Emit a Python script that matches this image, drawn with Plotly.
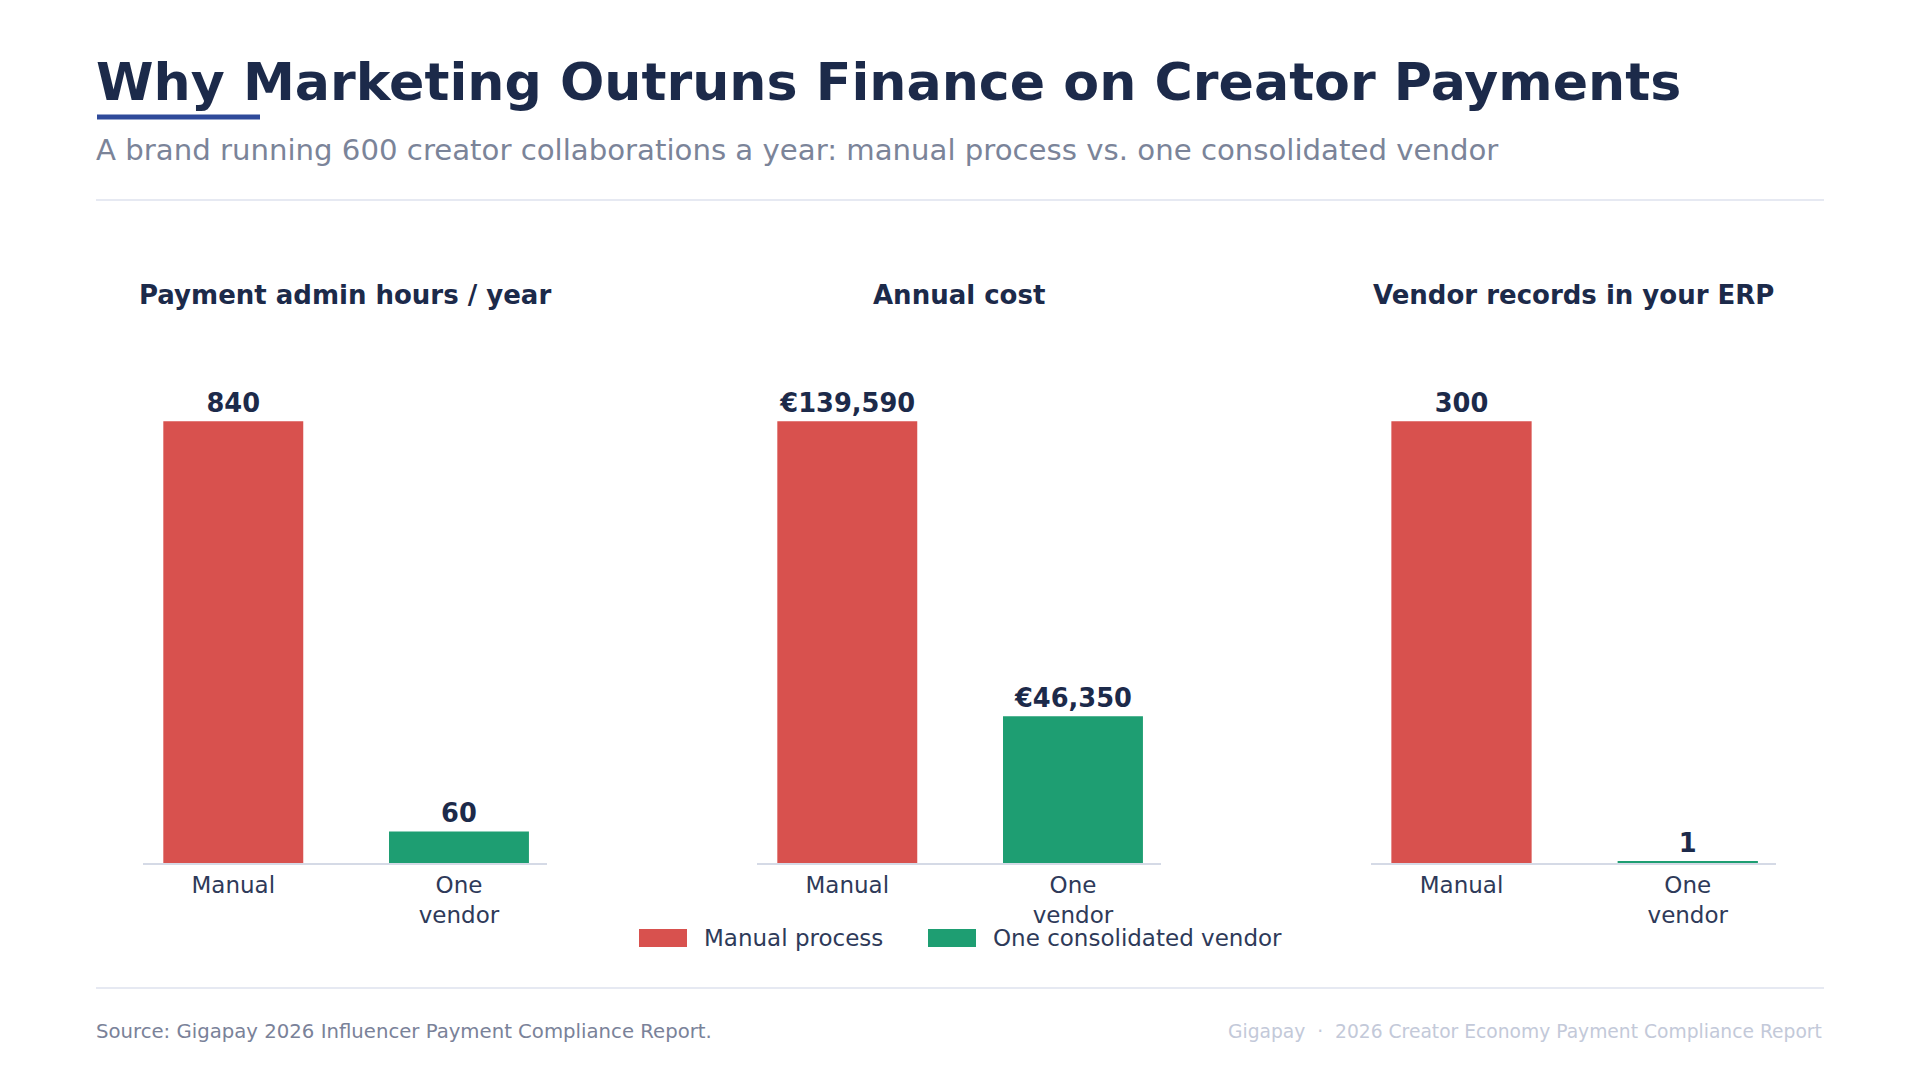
import plotly.graph_objects as go

W, H = 1920, 1080

# ---- data ----
panel_titles = ["Payment admin hours / year", "Annual cost", "Vendor records in your ERP"]
categories = ["Manual", "One<br>vendor"]
manual_values = [840, 139590, 300]
vendor_values = [60, 46350, 1]
manual_labels = ["840", "€139,590", "300"]
vendor_labels = ["60", "€46,350", "1"]
series_names = ["Manual process", "One consolidated vendor"]

RED = "#D8514E"
GREEN = "#1E9E72"
NAVY = "#1C2A4A"
TICK = "#2E3A59"
FONT = "DejaVu Sans"


def px_x(x):
    return x / W


def px_y(y):
    return 1 - y / H


x_domains = [(143, 547), (757, 1161), (1371, 1776)]
base_px, top_px = 863, 377

fig = go.Figure()
for i in range(3):
    ax = "" if i == 0 else str(i + 1)
    for name, vals, labs, col in [
        (series_names[0], manual_values, manual_labels, RED),
        (series_names[1], vendor_values, vendor_labels, GREEN),
    ]:
        cat = categories[0] if col == RED else categories[1]
        fig.add_trace(go.Bar(
            x=[cat], y=[vals[i]], text=[labs[i]], name=name,
            marker=dict(color=col, line=dict(width=0)),
            width=0.62, textposition="outside", cliponaxis=False,
            textfont=dict(family=FONT, size=25.7, color=NAVY, weight="bold"),
            xaxis="x" + ax, yaxis="y" + ax, showlegend=False,
        ))
    d = x_domains[i]
    ymax = max(manual_values[i], vendor_values[i])
    fig.update_layout(**{
        "xaxis" + ax: dict(
            domain=[px_x(d[0]), px_x(d[1])], anchor="y" + ax,
            categoryorder="array", categoryarray=categories,
            range=[-0.4, 1.39], showline=True, linecolor="#D5DAE6", linewidth=2,
            ticks="", ticklen=0, showgrid=False, zeroline=False, fixedrange=True,
            tickfont=dict(family=FONT, size=23, color=TICK),
        ),
        "yaxis" + ax: dict(
            domain=[px_y(base_px), px_y(top_px)], anchor="x" + ax,
            range=[0, ymax * 1.1], visible=False, fixedrange=True,
        ),
    })
    fig.add_annotation(
        x=px_x((d[0] + d[1]) / 2), y=px_y(295), xref="paper", yref="paper",
        text="<b>" + panel_titles[i] + "</b>", showarrow=False,
        xanchor="center", yanchor="middle",
        font=dict(family=FONT, size=26, color=NAVY),
    )

annotations = [
    dict(x=px_x(94), y=px_y(82), text="<b>Why Marketing Outruns Finance on Creator Payments</b>",
         font=dict(family=FONT, size=52.2, color=NAVY)),
    dict(x=px_x(94), y=px_y(150),
         text="A brand running 600 creator collaborations a year: manual process vs. one consolidated vendor",
         font=dict(family=FONT, size=29.2, color="#7B8499")),
    dict(x=px_x(94), y=px_y(1031), text="Source: Gigapay 2026 Influencer Payment Compliance Report.",
         font=dict(family=FONT, size=19.7, color="#7A8299")),
    dict(x=px_x(702), y=px_y(938), text=series_names[0],
         font=dict(family=FONT, size=23, color=TICK)),
    dict(x=px_x(991), y=px_y(938), text=series_names[1],
         font=dict(family=FONT, size=23, color=TICK)),
]
for a in annotations:
    fig.add_annotation(xref="paper", yref="paper", showarrow=False,
                       xanchor="left", yanchor="middle", **a)
fig.add_annotation(x=px_x(1824), y=px_y(1031), xref="paper", yref="paper", showarrow=False,
                   xanchor="right", yanchor="middle",
                   text="Gigapay  ·  2026 Creator Economy Payment Compliance Report",
                   font=dict(family=FONT, size=18.7, color="#C3C9D9"))

shapes = [
    dict(type="line", x0=px_x(97), x1=px_x(260), y0=px_y(117), y1=px_y(117),
         line=dict(color="#2F4A9A", width=5)),
    dict(type="line", x0=px_x(96), x1=px_x(1824), y0=px_y(200), y1=px_y(200),
         line=dict(color="#E6E9F2", width=2)),
    dict(type="line", x0=px_x(96), x1=px_x(1824), y0=px_y(988), y1=px_y(988),
         line=dict(color="#E6E9F2", width=2)),
    dict(type="rect", x0=px_x(639), x1=px_x(687), y0=px_y(929), y1=px_y(947),
         fillcolor=RED, line=dict(width=0)),
    dict(type="rect", x0=px_x(928), x1=px_x(976), y0=px_y(929), y1=px_y(947),
         fillcolor=GREEN, line=dict(width=0)),
]
for s in shapes:
    fig.add_shape(xref="paper", yref="paper", **s)

fig.update_layout(
    width=W, height=H, margin=dict(l=0, r=0, t=0, b=0),
    paper_bgcolor="white", plot_bgcolor="white", showlegend=False,
    font=dict(family=FONT), barmode="overlay",
)

fig.write_html("out.html")
